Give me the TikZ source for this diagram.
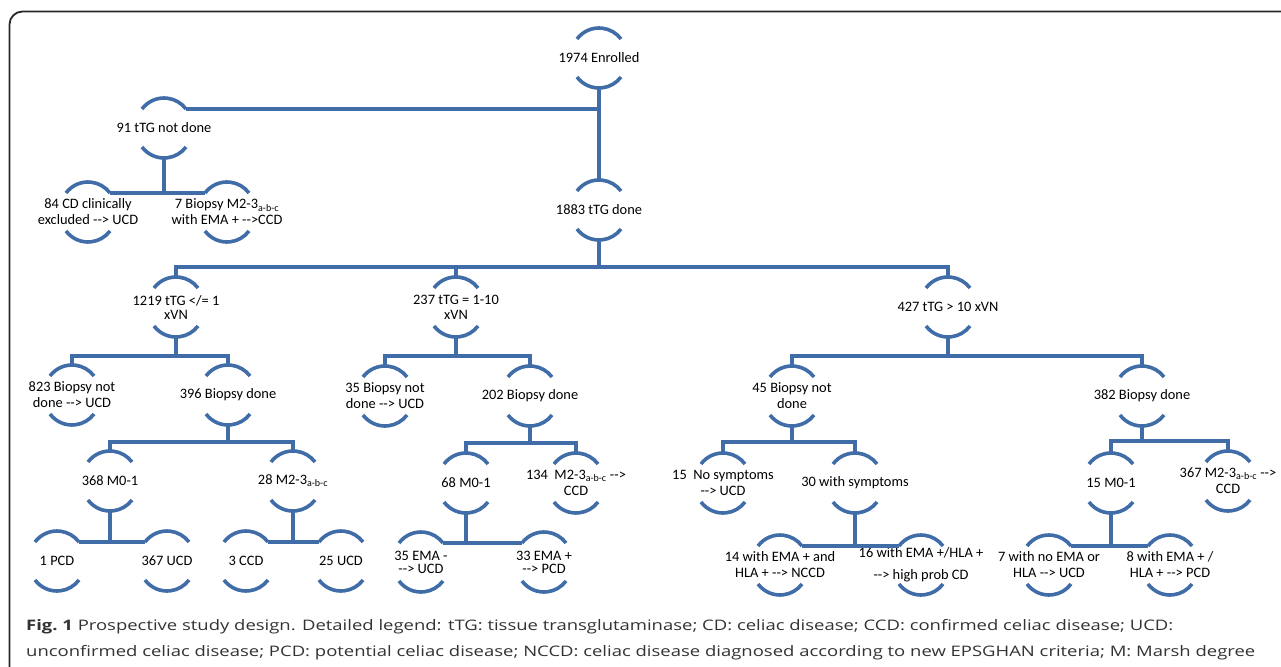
\documentclass[tikz,border=0pt]{standalone}
\usepackage{fontspec}
\usepackage{graphicx}
\usetikzlibrary{calc}
\newfontfamily\nodefont{Carlito}
\newfontfamily\capfont{Open Sans}
\definecolor{lineblue}{RGB}{64,108,168}
\definecolor{framecol}{RGB}{40,40,40}
\tikzset{
 conn/.style={draw=lineblue, line width=3.5pt},
 arcst/.style={draw=lineblue, line width=3.6pt},
 txt/.style={font=\nodefont\fontsize{14.4}{16}\selectfont, align=center, inner sep=0pt, text=black},
 captxt/.style={anchor=base west, inner sep=0pt, text=black!80},
}
\newcommand\fnode[4][]{%
 \node[txt,#1] (#2) at (#3) {#4};
 \coordinate (#2-tl) at ($(#2.center)+(-22,-19)$);
 \coordinate (#2-tr) at ($(#2.center)+(22,-19)$);
 \coordinate (#2-t) at ($(#2.center)+(0,-30)$);
 \coordinate (#2-bl) at ($(#2.center)+(-22,19)$);
 \coordinate (#2-br) at ($(#2.center)+(22,19)$);
 \coordinate (#2-b) at ($(#2.center)+(0,30)$);
 \draw[arcst] (#2-tl) arc[start angle=143.13, end angle=36.87, radius=27.5pt];
 \draw[arcst] (#2-bl) arc[start angle=216.87, end angle=323.13, radius=27.5pt];
}
\newcommand\twob[4]{%
 \coordinate (#1-j) at (#1-b |- 0,#4);
 \draw[conn] (#1-b) -- (#1-j);
 \draw[conn] (#2-t) |- (#1-j) -| (#3-t);
}
\newcommand\pairb[3]{%
 \draw[conn] (#1-b) -- (#1-b |- #2-tr);
 \draw[conn] (#2-tr) -- (#3-tl);
}
\begin{document}
\begin{tikzpicture}[x=1pt,y=-1pt]
\useasboundingbox (0,0) rectangle (1281,666);
\fill[white] (0,0) rectangle (1281,666);
\draw[framecol, line width=1.8pt, rounded corners=13pt] (9.5,690) -- (9.5,11.5) -- (1300,11.5);

\fnode{enr}{599,58}{1974 Enrolled}
\fnode{ntd}{164,128}{91 tTG not done}
\fnode{cde}{88,212}{84 CD clinically\\excluded -{}-> UCD}
\fnode{bxs}{227,212}{7 Biopsy M2-3\textsubscript{a-b-c}\\with EMA + -{}->CCD}
\fnode{tdn}{599,210}{1883 tTG done}
\fnode[font=\nodefont\fontsize{14.4}{14}\selectfont]{ta}{176,307}{1219 tTG </= 1\\xVN}
\fnode[font=\nodefont\fontsize{14.4}{15}\selectfont]{tb}{456,307}{237 tTG = 1-10\\xVN}
\fnode{tc}{948,307}{427 tTG > 10 xVN}
\fnode{bna}{72,395}{823 Biopsy not\\done -{}-> UCD}
\fnode{bda}{228,395}{396 Biopsy done}
\fnode{bnb}{385,396}{35 Biopsy not\\done -{}-> UCD}
\fnode{bdb}{530,396}{202 Biopsy done}
\fnode{bnc}{792,396}{45 Biopsy not\\done}
\fnode{bdc}{1142,396}{382 Biopsy done}
\fnode{ma}{110,481}{368 M0-1}
\fnode{mb}{293,481}{28 M2-3\textsubscript{a-b-c}}
\fnode{pa}{57,561}{1 PCD}
\fnode{ua}{167,561}{367 UCD}
\fnode{ca}{246,561}{3 CCD}
\fnode{ub}{341,561}{25 UCD}
\fnode{mc}{466,483}{68 M0-1}
\fnode{md}{576,483}{134~ M2-3\textsubscript{a-b-c} -{}->\\CCD}
\fnode[font=\nodefont\fontsize{14.4}{13}\selectfont]{ea}{421,562}{35 EMA -\\-{}-> UCD}
\fnode[font=\nodefont\fontsize{14.4}{13}\selectfont]{eb}{544,562}{33 EMA +\\-{}-> PCD}
\fnode{sa}{723,483}{15~ No symptoms\\-{}-> UCD}
\fnode{sb}{855,483}{30 with symptoms}
\fnode{ha}{780,565}{14 with EMA + and\\HLA + -{}-> NCCD}
\fnode[font=\nodefont\fontsize{14.4}{22}\selectfont]{hb}{921,565}{16 with EMA +/HLA +\\-{}-> high prob CD}
\fnode{me}{1111,483}{15 M0-1}
\fnode{mf}{1228,481}{367 M2-3\textsubscript{a-b-c} -{}->\\CCD}
\fnode{na}{1049,565}{7 with no EMA or\\HLA -{}-> UCD}
\fnode{nb}{1170,565}{8 with EMA + /\\HLA + -{}-> PCD}

% connectors
\draw[conn] (enr-b) -- (tdn-t);
\draw[conn] (enr-b |- ntd-tr) -- (ntd-tr);
\pairb{ntd}{cde}{bxs}
\coordinate (tdn-j) at (tdn-b |- 0,267);
\draw[conn] (tdn-b) -- (tdn-j);
\draw[conn] (ta-t) |- (tdn-j) -| (tc-t);
\draw[conn] (tb-t) -- (tb-t |- tdn-j);
\twob{ta}{bna}{bda}{356}
\twob{tb}{bnb}{bdb}{356}
\twob{tc}{bnc}{bdc}{356}
\twob{bda}{ma}{mb}{442}
\twob{bdb}{mc}{md}{443}
\twob{bnc}{sa}{sb}{442}
\twob{bdc}{me}{mf}{441}
\pairb{ma}{pa}{ua}
\pairb{mb}{ca}{ub}
\pairb{mc}{ea}{eb}
\pairb{sb}{ha}{hb}
\pairb{me}{na}{nb}

% caption
\node[captxt] (cap1) at (26,630) {\resizebox{1147pt}{\height}{\capfont\fontsize{14.5}{18}\selectfont\textbf{Fig.\ 1} Prospective study design. Detailed legend: tTG: tissue transglutaminase; CD: celiac disease; CCD: confirmed celiac disease; UCD:}};
\node[captxt] (cap2) at (26,656) {\resizebox{1229pt}{\height}{\capfont\fontsize{14.5}{18}\selectfont unconfirmed celiac disease; PCD: potential celiac disease; NCCD: celiac disease diagnosed according to new EPSGHAN criteria; M: Marsh degree}};
\end{tikzpicture}
\end{document}
